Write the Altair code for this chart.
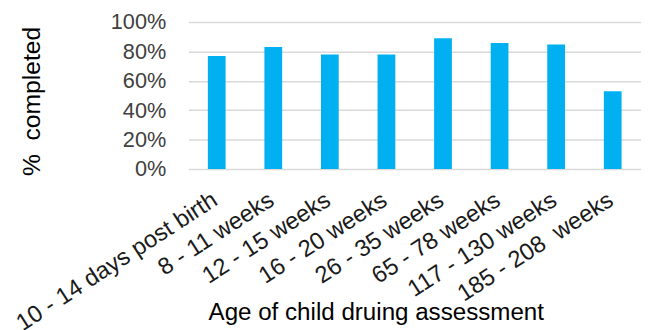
import altair as alt
import pandas as pd

categories = [
    "10 - 14 days post birth",
    "8 - 11 weeks",
    "12 - 15 weeks",
    "16 - 20 weeks",
    "26 - 35 weeks",
    "65 - 78 weeks",
    "117 - 130 weeks",
    "185 - 208\u00a0 weeks",
]
completed = [0.77, 0.83, 0.78, 0.78, 0.89, 0.857, 0.848, 0.529]

df = pd.DataFrame({"age": categories, "pct": completed})

FONT = "Liberation Sans"

chart = (
    alt.Chart(df)
    .mark_bar(color="#00b0f0", size=18)
    .encode(
        x=alt.X(
            "age:N",
            sort=categories,
            title="Age of child druing assessment",
            axis=alt.Axis(
                labelAngle=-33,
                labelFontSize=24,
                labelFont=FONT,
                labelColor="#1a1a1a",
                ticks=False,
                domain=False,
                labelPadding=19,
                labelOffset=-8,
                labelOverlap=False,
                labelLimit=400,
                titleFont=FONT,
                titleFontSize=24.5,
                titleFontWeight="normal",
                titleColor="#000000",
                titleX=190,
                titleY=153,
                titleAlign="center",
                titleBaseline="alphabetic",
            ),
        ),
        y=alt.Y(
            "pct:Q",
            title="%\u00a0 completed",
            scale=alt.Scale(domain=[0, 1]),
            axis=alt.Axis(
                format=".0%",
                values=[0, 0.2, 0.4, 0.6, 0.8, 1.0],
                labelFontSize=22,
                labelFont=FONT,
                labelColor="#404040",
                ticks=False,
                domain=False,
                labelPadding=23,
                gridColor="#d9d9d9",
                gridWidth=1.5,
                titleFont=FONT,
                titleFontSize=25,
                titleFontWeight="normal",
                titleColor="#000000",
                titleX=-159,
                titleY=80,
                titleAlign="center",
                titleBaseline="middle",
            ),
        ),
    )
    .properties(
        width=459,
        height=149,
        autosize=alt.AutoSizeParams(type="none"),
        padding={"left": 183, "top": 12, "right": 0, "bottom": 161},
    )
    .configure_view(stroke=None)
)

chart.save("out.html", embed_options={"renderer": "svg", "actions": False})
